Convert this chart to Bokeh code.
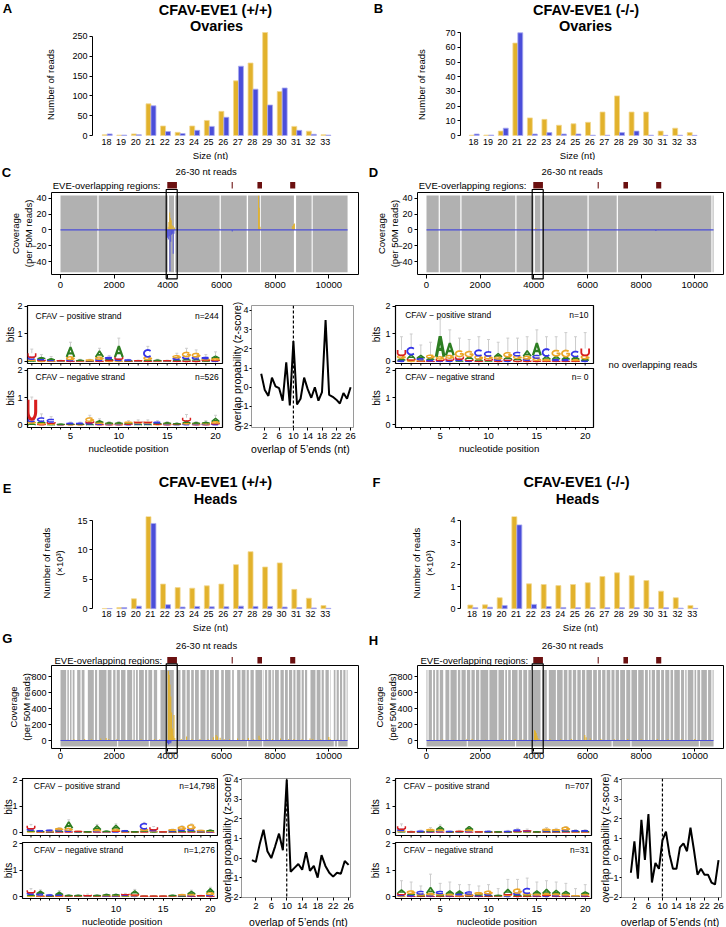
import math
from bokeh.plotting import figure
from bokeh.layouts import column, row
from bokeh.models import (Range1d, FixedTicker, LinearAxis, ColumnDataSource,
                          CustomJSTickFormatter, Span)
from bokeh.core.properties import value
from bokeh.embed import file_html
from bokeh.resources import INLINE

FONT = "Liberation Sans"
YEL, YEL_EDGE = "#E2B22C", "#F2D890"
BLU, BLU_EDGE = "#4B4ED9", "#A9ABF0"
GREY = "#B1B1B1"
EVE_COL = "#6B1010"
LET_COL = {"A": "#2D7E22", "C": "#3535E8", "G": "#EBA628", "U": "#D81E1E"}

# ---------------- data: size distributions ----------------
sizes = list(range(18, 34))
ovaries_wt_sense = [2, 1, 4, 80, 24, 8, 24, 38, 61, 138, 183, 260, 111, 23, 11, 2]
ovaries_wt_anti = [4, 1, 2, 75, 10, 5, 13, 23, 46, 175, 117, 77, 120, 13, 3, 1]
ovaries_ko_sense = [0.2, 0.3, 3, 63, 12, 11, 7, 8, 9, 16, 27, 16, 16, 3, 5, 2]
ovaries_ko_anti = [1, 0.3, 5, 70, 1, 2, 1, 1, 0.2, 0.2, 2, 3, 0.2, 0.1, 0.2, 0.1]
heads_wt_sense = [0.05, 0.2, 1.7, 17.4, 4.2, 3.6, 3.5, 3.9, 4.2, 7.5, 9.7, 7.1, 7.8, 3.3, 1.8, 0.55]
heads_wt_anti = [0.05, 0.2, 0.45, 14.5, 0.7, 0.3, 0.4, 0.35, 0.35, 0.45, 0.4, 0.4, 0.3, 0.2, 0.15, 0.08]
heads_ko_sense = [0.17, 0.18, 0.5, 4.65, 1.13, 1.1, 1.05, 1.1, 1.18, 1.46, 1.63, 1.5, 1.28, 0.8, 0.5, 0.15]
heads_ko_anti = [0.05, 0.07, 0.15, 3.8, 0.2, 0.1, 0.06, 0.05, 0.05, 0.05, 0.05, 0.05, 0.05, 0.05, 0.03, 0.02]

# ---------------- data: genome coverage ----------------
genome_len = 10700
eve_start = [3980, 6380, 7340, 8560]
eve_end = [4340, 6420, 7510, 8750]
focus_start, focus_end = 3940, 4350

c_gap_start = [1375, 4000, 4230, 5930, 6940, 7440, 8700, 9360]
c_gap_end = [1420, 4045, 4275, 5975, 6990, 7470, 8780, 9400]
c_plus_pos = [1380, 4010, 4040, 4070, 4100, 4130, 4160, 4200, 4250, 5930, 7380, 7410, 7440, 8640, 8680, 8720]
c_plus_val = [1.5, 4, 10, 22, 15, 12, 6, 5, 3, 1.5, 43, 28, 4, 5, 7, 8]
c_minus_pos = [3990, 4020, 4050, 4080, 4110, 4140, 4170, 4200, 4230, 6400]
c_minus_val = [-10, -12, -8, -52, -15, -6, -5, -30, -5, -2]

d_gap_start = [454, 1260, 3310, 3990, 4250, 6000, 7090, 10618]
d_gap_end = [499, 1305, 3355, 4040, 4290, 6045, 7135, 10663]
d_plus_pos = [1300, 2050, 3500, 4060, 4100, 6200, 7000, 7450, 8650, 10200]
d_plus_val = [0.8, 0.8, 1, 2.5, 1.5, 0.8, 1, 0.8, 0.8, 0.8]
d_minus_pos = [8550]
d_minus_val = [-1.5]

g_gap_start = [211, 311, 410, 522, 745, 894, 1242, 1366, 1714, 1901, 2050, 2211, 2422, 2671, 2770,
               2882, 3106, 3230, 3416, 3602, 3913, 4224, 4472, 4658, 4820, 4969, 5155, 5404, 5528,
               5714, 5901, 6087, 6335, 6460, 6708, 6894, 7019, 7205, 7516, 7578, 7702, 7851, 7950,
               8137, 8323, 8472, 8634, 8758, 8944, 9068, 9193, 9503, 9689, 9814, 10000, 10062,
               10248, 10373, 10497, 10621]
g_gap_end = [256, 356, 455, 621, 790, 1019, 1287, 1429, 1759, 1963, 2095, 2256, 2484, 2716, 2815,
             2927, 3151, 3275, 3478, 3727, 3975, 4348, 4534, 4703, 4870, 5014, 5217, 5449, 5573,
             5759, 5988, 6132, 6398, 6584, 6753, 6939, 7081, 7267, 7561, 7623, 7747, 7896, 7995,
             8199, 8368, 8517, 8679, 8803, 8989, 9113, 9317, 9548, 9734, 9876, 10045, 10186,
             10293, 10418, 10542, 10666]
g_low_gap_start = [2112, 3292, 6957, 7516, 10186, 10310]
g_low_gap_end = [2150, 3330, 6995, 7555, 10225, 10350]
g_plus_pos = [250, 500, 700, 900, 1150, 1500, 1700, 1800, 2100, 2400, 2700, 3000, 3300, 3500, 3700,
              4020, 4050, 4080, 4110, 4140, 4170, 4200, 4230, 4260, 4500, 4700, 4900, 5200, 5500,
              5700, 5800, 5850, 5950, 6100, 6300, 6600, 6800, 7000, 7200, 7400, 7450, 7700, 7900,
              8200, 8500, 8700, 9000, 9300, 9400, 9700, 10000, 10050, 10300]
g_plus_val = [10, 15, 10, 20, 15, 25, 30, 20, 15, 10, 10, 15, 10, 20, 15,
              870, 820, 700, 550, 350, 150, 60, 320, 30, 20, 50, 15, 20, 15,
              40, 70, 50, 35, 20, 15, 25, 15, 30, 20, 60, 25, 20, 15,
              25, 15, 20, 15, 25, 20, 15, 45, 20, 10]
g_minus_pos = [3990, 4020, 4050, 4080, 4110, 4140]
g_minus_val = [-30, -50, -40, -20, -35, -10]

h_gap_start = [34, 202, 319, 450, 622, 850, 1126, 1260, 1462, 1630, 1800, 1966, 2300, 2638, 2890,
               3000, 3142, 3394, 3562, 3750, 3898, 4250, 4486, 4822, 5074, 5250, 5410, 5578, 5750,
               5914, 6166, 6350, 6502, 6670, 6850, 7006, 7174, 7400, 7594, 7846, 8098, 8250, 8350,
               8518, 8700, 8854, 9050, 9190, 9442, 9600, 9694, 9946, 10050, 10198, 10450, 10618]
h_gap_end = [79, 247, 364, 495, 706, 895, 1171, 1305, 1507, 1675, 1845, 2011, 2345, 2683, 2935,
             3045, 3187, 3439, 3607, 3795, 3960, 4318, 4560, 4867, 5119, 5295, 5455, 5623, 5795,
             5959, 6211, 6395, 6547, 6715, 6895, 7051, 7219, 7445, 7639, 7891, 8143, 8295, 8395,
             8563, 8745, 8899, 9095, 9235, 9487, 9645, 9739, 9991, 10095, 10243, 10495, 10663]
h_low_gap_start = [1500, 3300, 6900, 7600, 10150]
h_low_gap_end = [1540, 3340, 6940, 7640, 10190]
h_plus_pos = [300, 600, 1000, 1500, 1700, 2200, 2800, 3300, 3600, 4030, 4060, 4090, 4120, 4150,
              4200, 4600, 5000, 5400, 5900, 5950, 6100, 6500, 7000, 7500, 8000, 8600, 9000, 9500,
              10000, 10400]
h_plus_val = [8, 12, 10, 15, 20, 10, 15, 20, 12, 130, 115, 95, 60, 30, 15, 20, 15, 20, 70, 40, 25,
              20, 15, 20, 15, 20, 15, 15, 20, 10]
h_minus_pos = [4050, 4100]
h_minus_val = [-8, -5]

# ---------------- data: sequence logos (bits per letter, positions 1-20) ----------------
positions = list(range(1, 21))
logo_c_pos = dict(
    A=[.04, .05, .04, .01, .35, .02, .02, .22, .04, .40, .02, .01, .04, .02, .01, .04, .06, .05, .03, .08],
    C=[.07, .04, .03, .01, .04, .01, .01, .05, .05, .05, .02, .01, .25, .01, .01, .06, .08, .08, .05, .03],
    G=[.04, .03, .02, .01, .10, .01, .02, .08, .03, .03, .01, .01, .10, .01, .01, .08, .15, .12, .04, .06],
    U=[.15, .03, .01, .01, .03, .01, .01, .03, .03, .08, .01, .01, .03, .01, .01, .03, .04, .04, .03, .03])
logo_c_pos_err = [.45, .25, .18, .05, .70, .08, .08, .48, .22, .85, .08, .05, .55, .08, .05, .30, .48, .42, .25, .35]
logo_c_neg = dict(
    A=[.06, .06, .02, .01, .02, .02, .03, .06, .03, .03, .03, .03, .03, .03, .03, .02, .08, .03, .04, .12],
    C=[.08, .12, .10, .005, .02, .02, .04, .03, .02, .02, .02, .03, .03, .03, .02, .01, .03, .02, .02, .03],
    G=[.06, .04, .03, .005, .01, .01, .12, .04, .02, .02, .03, .03, .03, .02, .02, .01, .03, .02, .03, .06],
    U=[.72, .03, .05, .005, .01, .01, .06, .02, .01, .01, .02, .03, .03, .02, .01, .01, .12, .01, .01, .03])
logo_c_neg_err = [1.02, .40, .30, .03, .10, .10, .35, .22, .12, .12, .15, .18, .18, .15, .12, .08, .38, .12, .15, .35]
logo_d_pos = dict(
    A=[.08, .15, .10, .06, .75, .45, .03, .10, .06, .04, .12, .08, .06, .20, .45, .12, .12, .10, .10, .06],
    C=[.04, .25, .06, .05, .03, .04, .05, .03, .20, .15, .05, .04, .12, .05, .10, .25, .05, .05, .18, .04],
    G=[.10, .05, .04, .10, .08, .10, .20, .18, .12, .10, .08, .15, .10, .10, .08, .05, .20, .22, .05, .12],
    U=[.20, .05, .02, .02, .06, .08, .10, .05, .03, .06, .04, .05, .05, .04, .04, .03, .03, .03, .03, .25])
logo_d_pos_err = [.90, 1.0, .60, .70, 1.55, 1.15, .85, .80, .90, .80, .70, .85, .85, .90, 1.15, .90, .90, 1.05, .90, 1.05]
logo_g_pos = dict(
    A=[.04, .02, .02, .03, .25, .01, .01, .15, .02, .15, .02, .01, .04, .02, .005, .03, .04, .04, .02, .03],
    C=[.06, .02, .03, .04, .04, .01, .005, .03, .01, .03, .02, .005, .20, .04, .005, .03, .05, .06, .02, .02],
    G=[.03, .01, .02, .06, .08, .01, .005, .05, .01, .06, .01, .005, .06, .03, .005, .03, .10, .15, .02, .02],
    U=[.12, .01, .01, .02, .03, .01, .005, .02, .005, .03, .01, .005, .03, .10, .005, .01, .02, .03, .01, .01])
logo_g_pos_err = [.30, .07, .09, .18, .48, .04, .02, .30, .05, .32, .07, .02, .38, .22, .02, .12, .25, .32, .08, .10]
logo_g_neg = dict(
    A=[.05, .10, .02, .10, .02, .02, .01, .02, .03, .03, .02, .12, .005, .005, .005, .02, .02, .10, .01, .15],
    C=[.06, .06, .02, .03, .01, .01, .01, .01, .02, .02, .03, .02, .005, .005, .005, .01, .02, .03, .01, .04],
    G=[.03, .03, .01, .02, .01, .01, .01, .01, .02, .02, .02, .03, .005, .005, .005, .01, .02, .05, .01, .08],
    U=[.10, .02, .01, .02, .01, .01, .04, .01, .01, .01, .03, .05, .005, .005, .005, .01, .01, .02, .01, .03])
logo_g_neg_err = [.30, .25, .08, .22, .07, .06, .09, .06, .10, .10, .12, .27, .01, .01, .01, .06, .09, .24, .05, .35]
logo_h_pos = dict(
    A=[.03, .005, .01, .03, .12, .01, .01, .12, .005, .01, .005, .01, .02, .02, .005, .03, .03, .03, .02, .02],
    C=[.05, .005, .02, .02, .03, .01, .01, .03, .005, .01, .003, .01, .04, .02, .003, .03, .03, .04, .02, .02],
    G=[.03, .005, .005, .05, .05, .005, .01, .05, .005, .005, .003, .005, .01, .01, .003, .05, .03, .10, .01, .01],
    U=[.12, .005, .005, .01, .02, .005, .01, .02, .005, .005, .003, .005, .02, .02, .003, .01, .01, .02, .01, .01])
logo_h_pos_err = [.32, .05, .08, .18, .28, .05, .07, .22, .03, .06, .03, .07, .15, .12, .03, .18, .15, .22, .10, .10]
logo_h_neg = dict(
    A=[.12, .05, .03, .22, .04, .12, .10, .02, .04, .03, .02, .15, .04, .04, .12, .15, .12, .10, .01, .08],
    C=[.04, .04, .10, .04, .08, .03, .05, .08, .03, .05, .01, .03, .06, .18, .03, .03, .04, .03, .01, .03],
    G=[.03, .10, .04, .06, .05, .05, .04, .04, .06, .10, .01, .04, .15, .06, .05, .05, .05, .05, .01, .05],
    U=[.06, .02, .02, .02, .02, .02, .02, .03, .02, .02, .01, .05, .03, .02, .02, .04, .02, .02, .005, .02])
logo_h_neg_err = [.60, .55, .40, .85, .50, .55, .45, .45, .40, .45, .30, .65, .65, .70, .55, .60, .55, .50, .30, .45]

# ---------------- data: 5' overlap z-scores ----------------
overlap_nt = list(range(1, 27))
overlap_c = [0.7, -0.15, -0.45, 0.5, 0.05, -0.05, -0.7, 1.3, -0.95, 2.4, -0.9, -0.6, 0.5, -0.1, -0.55,
             0.0, -0.7, -0.25, 3.5, -0.4, -0.5, -0.65, -0.85, -0.3, -0.6, 0.0]
overlap_g = [-0.1, -0.2, 0.7, 1.45, 0.35, 0.0, 0.6, 1.25, 0.4, 4.0, -0.7, -0.5, -0.3, -0.6, 0.3,
             -0.65, -0.4, -1.0, 0.15, -0.4, -0.75, -0.95, -0.75, -0.8, -0.15, -0.35]
overlap_h = [-0.75, 0.85, -1.05, 1.95, -0.1, 2.25, -1.25, -0.25, -0.55, 0.9, 1.35, 0.2, -0.55, -0.55,
             0.55, 0.75, 0.35, 1.55, 0.4, -0.85, -0.55, -0.85, -0.85, -1.25, -1.35, -0.1]


# ---------------- helpers ----------------
class Panel:
    """A figure whose canvas and frame are given in page pixels."""
    def __init__(self, canvas, frame, xr, yr):
        cx0, cy0, cx1, cy1 = canvas
        fl, ft, fr, fb = frame
        self.fl, self.ft, self.fr, self.fb = fl, ft, fr, fb
        self.xr, self.yr = xr, yr
        p = figure(width=cx1 - cx0, height=cy1 - cy0,
                   x_range=Range1d(*xr), y_range=Range1d(*yr),
                   x_axis_type=None, y_axis_type=None,
                   min_border_left=fl - cx0, min_border_right=cx1 - fr,
                   min_border_top=ft - cy0, min_border_bottom=cy1 - fb,
                   output_backend="svg", toolbar_location=None)
        p.outline_line_color = None
        p.background_fill_color = "white"
        p.border_fill_color = "white"
        self.p = p

    def dx(self, px):
        return self.xr[0] + (px - self.fl) / (self.fr - self.fl) * (self.xr[1] - self.xr[0])

    def dy(self, py):
        return self.yr[1] - (py - self.ft) / (self.fb - self.ft) * (self.yr[1] - self.yr[0])

    def label(self, px, py, text, size=9.5, bold=False, align="center", color="black"):
        self.p.text(x=[self.dx(px)], y=[self.dy(py)], text=[text],
                    text_font=value(FONT), text_font_size=value(f"{size}px"),
                    text_font_style=value("bold" if bold else "normal"),
                    text_align=value(align), text_baseline=value("middle"),
                    text_color=color, level="overlay")


def minus_fmt():
    return CustomJSTickFormatter(code="return tick < 0 ? '\\u2212' + Math.abs(tick) : String(tick);")


def add_axis(pn, side, ticks, minor=None, tick_out=3, standoff=2, size="9px",
             line=False, bounds=None, minus=False, label=None, label_size="9.5px", label_standoff=0):
    ax = LinearAxis(ticker=FixedTicker(ticks=ticks, minor_ticks=minor or []))
    ax.major_label_text_font = FONT
    ax.major_label_text_font_size = size
    ax.major_label_text_color = "black"
    ax.major_tick_out = tick_out
    ax.major_tick_in = 0
    ax.minor_tick_out = 2 if minor else 0
    ax.minor_tick_in = 0
    ax.major_label_standoff = standoff
    ax.major_tick_line_color = "black" if tick_out > 0 else None
    ax.minor_tick_line_color = "black"
    ax.major_label_orientation = "horizontal"
    ax.axis_line_color = "black" if line else None
    if bounds is not None:
        ax.bounds = bounds
    if minus:
        ax.formatter = minus_fmt()
    if label:
        ax.axis_label = label
        ax.axis_label_text_font = FONT
        ax.axis_label_text_font_size = label_size
        ax.axis_label_text_font_style = "normal"
        ax.axis_label_text_color = "black"
        ax.axis_label_standoff = label_standoff
    pn.p.add_layout(ax, side)
    return ax


def bar_panel(pn, sense, anti, yticks, ymax, letter, lpos, title, tpos, sub, ylab, ystand, size_pos):
    p = pn.p
    src = ColumnDataSource(dict(xs=[s - 0.12 for s in sizes], xa=[s + 0.22 for s in sizes],
                                sense=sense, anti=anti))
    p.vbar(x="xs", top="sense", bottom=0, width=0.34, source=src,
           fill_color=YEL, line_color=YEL_EDGE, line_width=0.8)
    p.vbar(x="xa", top="anti", bottom=0, width=0.34, source=src,
           fill_color=BLU, line_color=BLU_EDGE, line_width=0.8)
    add_axis(pn, "left", yticks, tick_out=3, standoff=2, line=True, bounds=(0, ymax),
             label=ylab, label_standoff=ystand)
    add_axis(pn, "below", sizes, tick_out=0, standoff=1)
    pn.label(lpos[0], lpos[1], letter, size=13, bold=True)
    pn.label(tpos[0], tpos[1], title, size=14.5, bold=True)
    pn.label(tpos[2], tpos[3], sub, size=14.5, bold=True)
    pn.label(size_pos[0], size_pos[1], "Size (nt)")


def complement(starts, ends, total):
    segs, cur = [], 0
    for s, e in sorted(zip(starts, ends)):
        if s > cur:
            segs.append((cur, s))
        cur = max(cur, e)
    if cur < total:
        segs.append((cur, total))
    return segs


def coverage_panel(pn, gaps, low_gaps, gtop, gbot, plus_pos, plus_val, minus_pos, minus_val,
                   bar_w, yticks, letter, lpos, reads_pos, eve_lab_pos, eve_px, focus_px,
                   ystand, xstand, xtick):
    p = pn.p
    p.outline_line_color = "black"
    p.outline_line_width = 1
    top_segs = complement(gaps[0], gaps[1], genome_len)
    low_segs = complement(low_gaps[0], low_gaps[1], genome_len)
    p.quad(left=[s for s, e in top_segs], right=[e for s, e in top_segs],
           bottom=0, top=gtop, fill_color=GREY, line_color=None)
    p.quad(left=[s for s, e in low_segs], right=[e for s, e in low_segs],
           bottom=gbot, top=0, fill_color=GREY, line_color=None)
    p.vbar(x=plus_pos, top=plus_val, bottom=0, width=bar_w, fill_color=YEL, line_color=None)
    p.vbar(x=minus_pos, top=0, bottom=minus_val, width=bar_w, fill_color=BLU, line_color=None)
    p.line(x=[0, genome_len], y=[0, 0], line_color=BLU, line_width=1.2)
    # EVE overlapping regions (outside the frame)
    p.quad(left=eve_start, right=eve_end, bottom=pn.dy(eve_px[1]), top=pn.dy(eve_px[0]),
           fill_color=EVE_COL, line_color=None, level="overlay")
    p.quad(left=[focus_start], right=[focus_end], bottom=[pn.dy(focus_px[1])], top=[pn.dy(focus_px[0])],
           fill_color=None, line_color="black", line_width=1.2, level="overlay")
    add_axis(pn, "left", yticks, tick_out=3, standoff=2, minus=True,
             label="Coverage\n(per 50M reads)", label_standoff=ystand)
    add_axis(pn, "below", [0, 2000, 4000, 6000, 8000, 10000], tick_out=xtick, standoff=xstand,
             size="9.5px")
    pn.label(lpos[0], lpos[1], letter, size=13, bold=True)
    pn.label(reads_pos[0], reads_pos[1], "26-30 nt reads")
    pn.label(eve_lab_pos[0], eve_lab_pos[1], "EVE-overlapping regions:", align="right")


def glyph_paths(ch):
    def arc(cx, cy, rx, ry, a0, a1, step=15):
        n = max(2, int(abs(a1 - a0) / step) + 1)
        return [(cx + rx * math.cos(math.radians(a0 + (a1 - a0) * k / (n - 1))),
                 cy + ry * math.sin(math.radians(a0 + (a1 - a0) * k / (n - 1)))) for k in range(n)]
    if ch == "A":
        return [[(0, 0), (0.5, 1), (1, 0)], [(0.22, 0.36), (0.78, 0.36)]]
    if ch == "C":
        return [arc(0.5, 0.5, 0.5, 0.5, 45, 315)]
    if ch == "G":
        return [arc(0.5, 0.5, 0.5, 0.5, 45, 340) + [(0.97, 0.48), (0.55, 0.48)]]
    return [[(0, 1), (0, 0.4)] + arc(0.5, 0.4, 0.5, 0.4, 180, 360) + [(1, 1)]]


def logo_panel(pn, heights, err, strand_text, n_text, text_y, text_x0, text_x1,
               bits_stand, xaxis, xstand=3):
    p = pn.p
    p.outline_line_color = "black"
    p.outline_line_width = 1.2
    xs, ys, cols, lws = [], [], [], []
    tops = []
    for i, pos in enumerate(positions):
        stack = sorted([(heights[ch][i], ch) for ch in "ACGU"])
        base = 0.0
        for h, ch in stack:
            if h <= 0:
                continue
            for path in glyph_paths(ch):
                xs.append([pos - 0.40 + 0.80 * u for u, v in path])
                ys.append([base + h * v for u, v in path])
                cols.append(LET_COL[ch])
                lws.append(min(3.2, 1.2 + 2.6 * h))
            base += h
        tops.append(base)
    if err is not None:
        p.segment(x0=positions, y0=tops, x1=positions, y1=err, line_color="#CCCCCC", line_width=1)
        p.segment(x0=[x - 0.15 for x in positions], y0=err, x1=[x + 0.15 for x in positions], y1=err,
                  line_color="#CCCCCC", line_width=1)
    if xs:
        p.multi_line(xs="xs", ys="ys", line_color="c", line_width="w",
                     source=ColumnDataSource(dict(xs=xs, ys=ys, c=cols, w=lws)))
    add_axis(pn, "left", [0, 1, 2], tick_out=3, standoff=2, label="bits", label_size="10px",
             label_standoff=bits_stand)
    if xaxis:
        add_axis(pn, "below", [5, 10, 15, 20], minor=positions, tick_out=2, standoff=xstand, size="9.5px")
    else:
        y0 = pn.yr[0]
        y1 = pn.dy(pn.fb + 2)
        p.segment(x0=positions, y0=y0, x1=positions, y1=y1, line_color="black", line_width=1,
                  level="overlay")
    pn.label(text_x0, text_y, strand_text, size=8.5, align="left")
    pn.label(text_x1, text_y, n_text, size=8.5, align="right")


def overlap_panel(pn, z, ystand, xlab_pos):
    p = pn.p
    p.outline_line_color = "#9A9A9A"
    p.outline_line_width = 1
    p.line(x=overlap_nt, y=z, line_color="black", line_width=2)
    p.add_layout(Span(location=10, dimension="height", line_color="black", line_width=1.2,
                      line_dash="3 2"))
    add_axis(pn, "left", [-2, -1, 0, 1, 2, 3, 4], tick_out=2, standoff=1, minus=True,
             label="overlap propability (z-score)", label_size="10.5px", label_standoff=ystand)
    add_axis(pn, "below", [2, 6, 10, 14, 18, 22, 26], tick_out=3, standoff=2, size="9.5px")
    pn.label(xlab_pos[0], xlab_pos[1], "overlap of 5\u2019ends (nt)", size=10.5)


# ---------------- band 1: ovaries size distributions ----------------
figA = Panel((0, 0, 363, 160), (92, 31, 332, 137), (17.04, 33.50), (-5.05, 262.6))
bar_panel(figA, ovaries_wt_sense, ovaries_wt_anti, [0, 50, 100, 150, 200, 250], 250,
          "A", (7, 8), "CFAV-EVE1 (+/+)", (215, 9.5, 216, 25.5), "Ovaries",
          "Number of reads", 13, (210, 155))
figB = Panel((363, 0, 726, 160), (460, 31, 698, 137), (17.105, 33.485), (-1.36, 70.9))
bar_panel(figB, ovaries_ko_sense, ovaries_ko_anti, [0, 10, 20, 30, 40, 50, 60, 70], 70,
          "B", (378, 8), "CFAV-EVE1 (-/-)", (585.5, 9.5, 585, 25.5), "Ovaries",
          "Number of reads", 15, (577, 155))

# ---------------- band 2: ovaries coverage ----------------
covC = Panel((0, 160, 363, 295), (51, 192, 358, 274), (-335.4, 11107), (-56.2, 47.1))
coverage_panel(covC, (c_gap_start, c_gap_end), (c_gap_start, c_gap_end), 43.3, -53.5,
               c_plus_pos, c_plus_val, c_minus_pos, c_minus_val, 35, [-40, -20, 0, 20, 40],
               "C", (6, 171.7), (205.7, 171), (160, 185), (181.5, 188), (189, 278.3),
               -6, 3, 4)
covD = Panel((363, 160, 726, 295), (417, 192, 723, 274), (-335.4, 11070), (-56.2, 47.1))
coverage_panel(covD, (d_gap_start, d_gap_end), (d_gap_start, d_gap_end), 43.3, -53.5,
               d_plus_pos, d_plus_val, d_minus_pos, d_minus_val, 35, [-40, -20, 0, 20, 40],
               "D", (373, 172), (571.7, 171), (526, 185), (181.5, 188), (189, 278.3),
               -6, 3, 4)

# ---------------- band 3: ovaries logos & overlap ----------------
logoCpos = Panel((0, 295, 228, 366), (27, 305, 222, 363), (0.555, 20.72), (-0.073, 2.036))
logo_panel(logoCpos, logo_c_pos, logo_c_pos_err, "CFAV \u2212 positive strand", "n=244", 315,
           35, 218.3, -2, False)
logoCneg = Panel((0, 366, 228, 455), (27, 368, 222, 427), (0.555, 20.72), (-0.099, 2.07))
logo_panel(logoCneg, logo_c_neg, logo_c_neg_err, "CFAV \u2212 negative strand", "n=526", 376.7,
           35, 218.3, -2, True)
logoCneg.label(128, 448.3, "nucleotide position", size=9.7)
ovC = Panel((228, 295, 363, 455), (248, 305, 353, 427), (-1.72, 26.81), (-2.10, 4.26))
overlap_panel(ovC, overlap_c, -8, (298.3, 448.3))

logoDpos = Panel((363, 295, 599, 366), (395, 305, 593, 363), (0.38, 20.86), (-0.073, 2.036))
logo_panel(logoDpos, logo_d_pos, logo_d_pos_err, "CFAV \u2212 positive strand", "n=10", 314,
           404.7, 588, 0, False)
logoDneg = Panel((363, 366, 599, 455), (395, 368, 593, 427), (0.38, 20.86), (-0.099, 2.07))
empty_logo = dict(A=[0] * 20, C=[0] * 20, G=[0] * 20, U=[0] * 20)
logo_panel(logoDneg, empty_logo, None, "CFAV \u2212 negative strand", "n= 0", 376.7,
           404.7, 588, 0, True)
logoDneg.label(498.7, 448.3, "nucleotide position", size=9.7)
txtD = Panel((599, 295, 726, 455), (599, 305, 726, 427), (0, 1), (0, 1))
txtD.label(652.3, 364.3, "no overlapping reads", size=9.5)

# ---------------- band 4: heads size distributions ----------------
figE = Panel((0, 455, 363, 632), (92, 516, 332, 609), (17.04, 33.50), (-0.12, 15.68))
bar_panel(figE, heads_wt_sense, heads_wt_anti, [0, 5, 10, 15], 15,
          "E", (6.7, 488), "CFAV-EVE1 (+/+)", (215, 481.7, 215, 498.3), "Heads",
          "Number of reads\n(\u00d710\u00b3)", 9, (210, 626.5))
figF = Panel((363, 455, 726, 632), (460, 516, 698, 609), (17.21, 33.43), (-0.032, 4.18))
bar_panel(figF, heads_ko_sense, heads_ko_anti, [0, 1, 2, 3, 4], 4,
          "F", (376, 482), "CFAV-EVE1 (-/-)", (576, 481.7, 577, 498.3), "Heads",
          "Number of reads\n(\u00d710\u00b3)", 12, (580, 626.5))

# ---------------- band 5: heads coverage ----------------
covG = Panel((0, 632, 363, 765), (51, 665, 358, 748), (-335.4, 11107), (-100, 937.5))
coverage_panel(covG, (g_gap_start, g_gap_end), (g_low_gap_start, g_low_gap_end), 880, -75,
               g_plus_pos, g_plus_val, g_minus_pos, g_minus_val, 40, [0, 200, 400, 600, 800],
               "G", (6.7, 638), (206, 645), (161.7, 660), (656.5, 663), (663.3, 752.7),
               -4, 1, 3)
covH = Panel((363, 632, 726, 765), (417, 665, 723, 748), (-335.4, 11070), (-100, 937.5))
coverage_panel(covH, (h_gap_start, h_gap_end), (h_low_gap_start, h_low_gap_end), 880, -75,
               h_plus_pos, h_plus_val, h_minus_pos, h_minus_val, 40, [0, 200, 400, 600, 800],
               "H", (373, 640), (572, 645), (527.7, 660), (656.5, 663), (663.3, 752.7),
               -4, 1, 3)

# ---------------- band 6: heads logos & overlap ----------------
logoGpos = Panel((0, 765, 218, 838), (22, 778, 217, 835), (0.10, 20.76), (-0.128, 2.077))
logo_panel(logoGpos, logo_g_pos, logo_g_pos_err, "CFAV \u2212 positive strand", "n=14,798", 785,
           33.3, 214.5, -5, False)
logoGneg = Panel((0, 838, 218, 927), (22, 842, 217, 898), (0.10, 20.76), (-0.076, 2.053))
logo_panel(logoGneg, logo_g_neg, logo_g_neg_err, "CFAV \u2212 negative strand", "n=1,276", 849.3,
           33.3, 214.5, -5, True, xstand=5)
logoGneg.label(121.7, 921, "nucleotide position", size=9.7)
ovG = Panel((218, 765, 363, 927), (235, 778, 350, 897), (-1.70, 26.49), (-2.015, 4.066))
overlap_panel(ovG, overlap_g, -8, (295, 921))

logoHpos = Panel((363, 765, 596, 838), (395, 778, 591, 835), (0.38, 20.65), (-0.128, 2.077))
logo_panel(logoHpos, logo_h_pos, logo_h_pos_err, "CFAV \u2212 positive strand", "n=707", 785,
           403, 588.7, 1, False)
logoHneg = Panel((363, 838, 596, 927), (395, 842, 591, 898), (0.38, 20.65), (-0.076, 2.053))
logo_panel(logoHneg, logo_h_neg, logo_h_neg_err, "CFAV \u2212 negative strand", "n=31", 849.3,
           403, 588.7, 1, True, xstand=5)
logoHneg.label(496.3, 921, "nucleotide position", size=9.7)
ovH = Panel((596, 765, 726, 927), (618, 778, 721, 897), (-1.68, 26.85), (-2.015, 4.066))
overlap_panel(ovH, overlap_h, -6, (668, 921))

# ---------------- layout: one row per band ----------------
layout = column(
    row(figA.p, figB.p),
    row(covC.p, covD.p),
    row(column(logoCpos.p, logoCneg.p), ovC.p, column(logoDpos.p, logoDneg.p), txtD.p),
    row(figE.p, figF.p),
    row(covG.p, covH.p),
    row(column(logoGpos.p, logoGneg.p), ovG.p, column(logoHpos.p, logoHneg.p), ovH.p),
)

with open("out.html", "w", encoding="utf-8") as f:
    f.write(file_html(layout, INLINE, title="CFAV-EVE1 small RNA"))
